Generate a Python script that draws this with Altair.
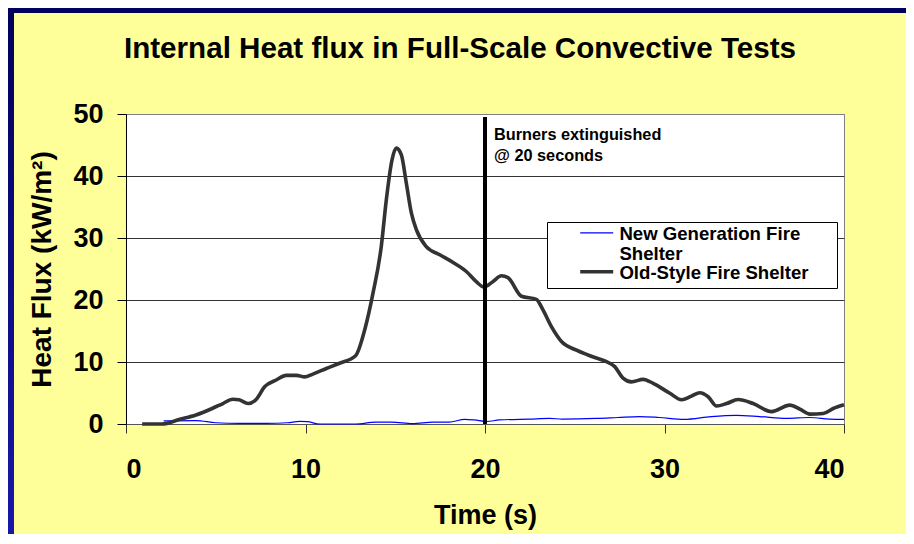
import altair as alt
import pandas as pd

# ---- data ----
series_names = ["New Generation Fire Shelter", "Old-Style Fire Shelter"]
series_colors = ["#0000FF", "#333333"]
series_widths = [1.2, 3.6]

old_t = [0.9, 2.0, 3.0, 3.9, 4.8, 5.4, 5.95, 6.3, 6.8, 7.26, 7.72, 8.37, 8.93, 9.5, 9.95,
         10.41, 11.16, 11.9, 12.79, 13.3, 13.76, 14.22, 14.5, 14.82, 15.06, 15.34, 15.62,
         15.9, 16.18, 16.73, 17.48, 18.2, 18.96, 19.5, 19.94, 20.45, 20.91, 21.28, 22.03,
         22.86, 23.23, 23.7, 24.26, 25.1, 26.0, 26.77, 27.23, 27.69, 28.16, 28.81, 29.37,
         30.3, 30.95, 31.5, 31.97, 32.43, 32.9, 33.46, 34.1, 34.94, 35.96, 36.98, 37.54,
         38.1, 38.84, 39.4, 40.0]
old_v = [0.0, 0.0, 0.75, 1.45, 2.5, 3.3, 4.0, 3.9, 3.3, 4.0, 6.0, 7.1, 7.85, 7.85, 7.6,
         8.05, 8.95, 9.8, 11.0, 15.2, 21.1, 28.6, 36.1, 42.6, 44.5, 43.4, 38.8,
         34.0, 31.3, 28.6, 27.3, 26.1, 24.6, 23.0, 22.1, 23.0, 23.9, 23.6, 20.6,
         20.1, 18.4, 15.7, 13.3, 11.9, 10.85, 10.05, 9.25, 7.4, 6.8, 7.2, 6.55,
         4.95, 3.9, 4.5, 5.05, 4.4, 2.9, 3.3, 3.95, 3.3, 2.0, 3.05, 2.4,
         1.6, 1.7, 2.5, 3.1]

new_t = [2.1, 3.9, 5.0, 6.3, 7.8, 9.0, 9.67, 10.1, 10.8, 11.5, 12.8, 13.9, 14.8, 15.97,
         17.1, 18.0, 18.87, 19.4, 20.1, 20.8, 22.5, 23.6, 24.3, 26.2, 27.4, 28.6, 29.7,
         31.1, 32.6, 34.0, 35.3, 36.8, 38.1, 39.2, 40.0]
new_v = [0.5, 0.55, 0.2, 0.1, 0.1, 0.2, 0.43, 0.38, 0.0, 0.0, 0.0, 0.3, 0.3, 0.05,
         0.3, 0.3, 0.75, 0.65, 0.4, 0.65, 0.8, 0.9, 0.8, 0.9, 1.05, 1.2, 1.05,
         0.75, 1.2, 1.4, 1.2, 0.9, 1.05, 0.8, 0.75]

event_time = [20]
event_top = [49.5]
annot_text = ["Burners extinguished\n@ 20 seconds"]
annot_v = [45.8]

x_ticks = [0, 10, 20, 30, 40]
y_ticks = [0, 10, 20, 30, 40, 50]

FONT = "Liberation Sans"

rows = [{"t": t, "v": v, "series": series_names[0]} for t, v in zip(new_t, new_v)]
rows += [{"t": t, "v": v, "series": series_names[1]} for t, v in zip(old_t, old_v)]
df = pd.DataFrame(rows)

xs = alt.Scale(domain=[0, 40], nice=False)
ys = alt.Scale(domain=[0, 50], nice=False)

x_axis = alt.Axis(values=x_ticks, grid=False, domainColor="#555555", tickColor="#333333",
                  tickSize=9, labelPadding=23, labelFont=FONT, labelFontSize=27,
                  labelFontWeight="bold", labelColor="black", titleFont=FONT,
                  titleFontSize=27, titleFontWeight="bold", titleColor="black",
                  titleX=359, titleY=99, titleBaseline="alphabetic", titleAlign="center")
y_axis = alt.Axis(values=y_ticks, grid=True,
                  gridColor={"condition": {"test": "datum.value === 50", "value": "#808080"},
                             "value": "#333333"},
                  gridWidth=1, domainColor="black", tickColor="black", tickSize=9,
                  labelPadding=14, labelFont=FONT, labelFontSize=27, labelFontWeight="bold",
                  labelColor="black", titleFont=FONT, titleFontSize=28, titleFontWeight="bold",
                  titleColor="black", titleX=-76, titleY=155, titleAngle=270,
                  titleBaseline="alphabetic", titleAlign="center")

label_expr = ("datum.label == '" + series_names[0] + "' ? ['New Generation Fire"
              + "\u00a0" * 6 + "\u200b', 'Shelter'] : datum.label")

# legend symbol: a horizontal stroke drawn slightly above the label centre
# (symbolSize 529 -> unit scale 11.5 px)
def legend():
    return alt.Legend(title=None, orient="none", legendX=421, legendY=108,
                      fillColor="white", strokeColor="black", padding=5,
                      symbolType="M-1.435,-0.583L1.435,-0.583", symbolSize=529,
                      symbolOffset=31.2, labelOffset=9.2, labelFont=FONT,
                      labelFontSize=18.6, labelFontWeight="bold", labelColor="black",
                      labelBaseline="alphabetic", labelLimit=600, labelExpr=label_expr,
                      rowPadding=-1)

lines = alt.Chart(df).mark_line(interpolate="monotone").encode(
    x=alt.X("t:Q", scale=xs, axis=x_axis, title="Time (s)"),
    y=alt.Y("v:Q", scale=ys, axis=y_axis, title="Heat Flux (kW/m²)"),
    color=alt.Color("series:N", scale=alt.Scale(domain=series_names, range=series_colors),
                    legend=legend()),
    strokeWidth=alt.StrokeWidth("series:N",
                                scale=alt.Scale(domain=series_names, range=series_widths),
                                legend=legend()),
    order=alt.Order("t:Q"),
)

ev = pd.DataFrame({"t": event_time, "v": event_top, "v2": [0] * len(event_time)})
rule = alt.Chart(ev).mark_rule(color="black", strokeWidth=4).encode(
    x=alt.X("t:Q", scale=xs), y=alt.Y("v:Q", scale=ys), y2="v2:Q")

ann = pd.DataFrame({"t": event_time, "v": annot_v, "label": annot_text})
text = alt.Chart(ann).mark_text(align="left", baseline="alphabetic", dx=9, font=FONT,
                                fontSize=16.3, fontWeight="bold", lineBreak="\n",
                                lineHeight=21, color="black").encode(
    x=alt.X("t:Q", scale=xs), y=alt.Y("v:Q", scale=ys), text="label:N")

# decorative blue slide frame (left and top strips)
dummy = pd.DataFrame({"k": [0]})
frame_left = alt.Chart(dummy).mark_rect(
    color=alt.LinearGradient(gradient="linear", x1=0, x2=0, y1=0, y2=1,
                             stops=[alt.GradientStop(offset=0, color="#00005A"),
                                    alt.GradientStop(offset=1, color="#1818A8")])
).encode(x=alt.value(-118), x2=alt.value(-112), y=alt.value(-106), y2=alt.value(420))
frame_top = alt.Chart(dummy).mark_rect(color="#00005E").encode(
    x=alt.value(-118), x2=alt.value(780), y=alt.value(-106), y2=alt.value(-101))

chart = alt.layer(frame_left, frame_top, lines, rule, text).properties(
    width=718, height=310,
    background="#FFFF99",
    padding={"left": 118, "top": 106, "right": 62, "bottom": 110},
    autosize=alt.AutoSizeParams(type="none"),
    title=alt.Title("Internal Heat flux in Full-Scale Convective Tests", font=FONT,
                    fontSize=29.6, fontWeight="bold", color="black", anchor="middle",
                    baseline="alphabetic", offset=0, dy=80, dx=-25, frame="group"),
).configure_view(fill="white", stroke="#808080", strokeWidth=1)

chart.save("out.html", embed_options={"renderer": "svg", "actions": False})
